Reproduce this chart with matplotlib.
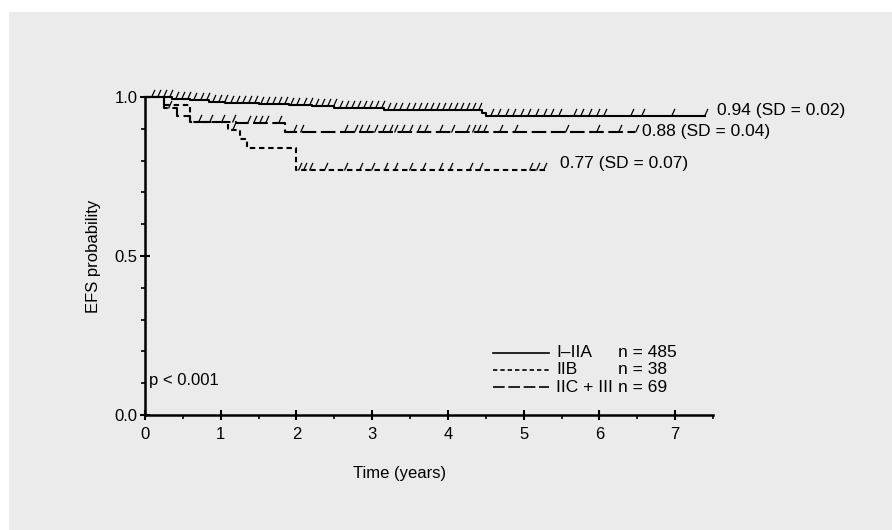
import numpy as np
import matplotlib
matplotlib.use("Agg")
import matplotlib.pyplot as plt
from matplotlib.patches import Rectangle

plt.rcParams['font.family'] = ['Liberation Sans', 'DejaVu Sans']

# ---- data ----
# Stage I-IIA (solid)
t_a = [0, 0.35, 0.6, 0.85, 1.05, 1.5, 1.9, 2.2, 2.5, 3.15, 4.45, 4.5, 7.4]
s_a = [1.0, 0.995, 0.99, 0.985, 0.98, 0.978, 0.975, 0.972, 0.965, 0.96, 0.95, 0.94, 0.94]
cens_a = [0.08, 0.16, 0.24, 0.32, 0.40, 0.48, 0.56, 0.64, 0.72, 0.80, 0.88, 0.96,
          1.04, 1.12, 1.20, 1.28, 1.36, 1.44, 1.52, 1.60, 1.68, 1.76, 1.84, 1.92,
          2.00, 2.08, 2.16, 2.24, 2.32, 2.40, 2.48, 2.56, 2.64, 2.72, 2.80, 2.88,
          2.96, 3.04, 3.12, 3.20, 3.28, 3.36, 3.44, 3.52, 3.60, 3.68, 3.76, 3.84,
          3.92, 4.00, 4.08, 4.16, 4.24, 4.32, 4.40,
          4.55, 4.65, 4.75, 4.85, 4.95, 5.05, 5.15, 5.25, 5.35, 5.45,
          5.65, 5.75, 5.85, 5.95, 6.05, 6.40, 6.55, 6.95, 7.38]

# Stage IIB (short dashes)
t_b = [0, 0.25, 0.6, 1.1, 1.25, 1.35, 2.0, 5.3]
s_b = [1.0, 0.974, 0.921, 0.895, 0.868, 0.84, 0.77, 0.77]
cens_b = [1.15, 2.02, 2.08, 2.17, 2.37, 2.63, 2.83, 2.99, 3.16, 3.29, 3.49,
          3.66, 3.88, 4.01, 4.28, 4.41, 5.07, 5.16, 5.26]

# Stage IIC + III (long dashes)
t_c = [0, 0.25, 0.42, 0.6, 1.2, 1.85, 6.47]
s_c = [1.0, 0.965, 0.94, 0.922, 0.917, 0.89, 0.89]
cens_c = [0.30, 0.70, 0.85, 1.00, 1.15, 1.35, 1.42, 1.50, 1.58, 1.75, 1.95, 2.05,
          2.63, 2.76, 2.83, 2.92, 3.03, 3.13, 3.22, 3.29, 3.38, 3.49, 3.59, 3.68,
          3.88, 4.04, 4.24, 4.32, 4.38, 4.46, 4.67, 4.87, 5.55, 5.95, 6.25, 6.47]

labels = ["I\u2013IIA", "IIB", "IIC + III"]
ns = ["n = 485", "n = 38", "n = 69"]
end_text = ["0.94 (SD = 0.02)", "0.88 (SD = 0.04)", "0.77 (SD = 0.07)"]
end_y = [0.959, 0.89, 0.792]
end_x = [7.55, 6.56, 5.48]

FS = 12

# ---- figure ----
fig = plt.figure(figsize=(8.92, 5.30), dpi=100, facecolor='white')
bg = Rectangle((9 / 892, 0), 1 - 9 / 892, (530 - 12) / 530, transform=fig.transFigure,
               facecolor='#ebebeb', edgecolor='none', zorder=-10)
fig.patches.append(bg)

ax = fig.add_axes([145 / 892, (530 - 415) / 530, (713 - 145) / 892, 318 / 530])
ax.set_facecolor('none')

slash = [(0, 0), (0.45, 1.0)]
styles = [dict(ls='-'), dict(ls=(0, (2.6, 1.8))), dict(ls=(0, (7, 2.2)))]
series = [(t_a, s_a, cens_a), (t_b, s_b, cens_b), (t_c, s_c, cens_c)]
for (t, s, c), st in zip(series, styles):
    ax.step(t, s, where='post', color='black', lw=1.5, clip_on=False, **st)
    t_arr = np.asarray(t)
    idx = np.searchsorted(t_arr, np.asarray(c), side='right') - 1
    yc = np.asarray(s)[idx]
    ax.plot(c, yc, ls='none', marker=slash, markersize=11, mew=0.9,
            color='black', clip_on=False)

for x, y, txt in zip(end_x, end_y, end_text):
    ax.text(x, y, txt, fontsize=12.5, va='center', ha='left')

# legend drawn manually
leg_y = [0.195, 0.142, 0.088]
for y, st, lab, n in zip(leg_y, styles, labels, ns):
    ax.plot([4.6, 5.33], [y, y], color='black', lw=1.2, **st)
    ax.text(5.43, y, lab, fontsize=12.5, va='center', ha='left')
    ax.text(6.25, y, n, fontsize=12.5, va='center', ha='left')

ax.text(0.05, 0.11, "p < 0.001", fontsize=12, va='center', ha='left')

ax.set_xlim(0, 7.5)
ax.set_ylim(0, 1.0)
ax.set_xticks(range(0, 8))
ax.set_xticks(np.arange(0.5, 7.6, 1.0), minor=True)
ax.set_yticks([0.0, 0.5, 1.0])
ax.set_yticklabels(["0.0", "0.5", "1.0"])
ax.set_yticks(np.arange(0.1, 1.0, 0.1), minor=True)
ax.tick_params(axis='both', which='major', direction='inout', length=7, width=1.5,
               labelsize=FS)
ax.tick_params(axis='both', which='minor', direction='out', length=3, width=1.2)
ax.tick_params(axis='x', which='major', pad=5)
ax.tick_params(axis='y', which='major', pad=2)
for sp in ['top', 'right']:
    ax.spines[sp].set_visible(False)
for sp in ['left', 'bottom']:
    ax.spines[sp].set_linewidth(1.8)

ax.set_ylabel("EFS probability", fontsize=FS)
ax.yaxis.set_label_coords(-0.078, 0.5)
ax.set_xlabel("Time (years)", fontsize=FS)
ax.xaxis.set_label_coords(0.449, -0.16)

fig.savefig("out.png", dpi=100, facecolor='white')
